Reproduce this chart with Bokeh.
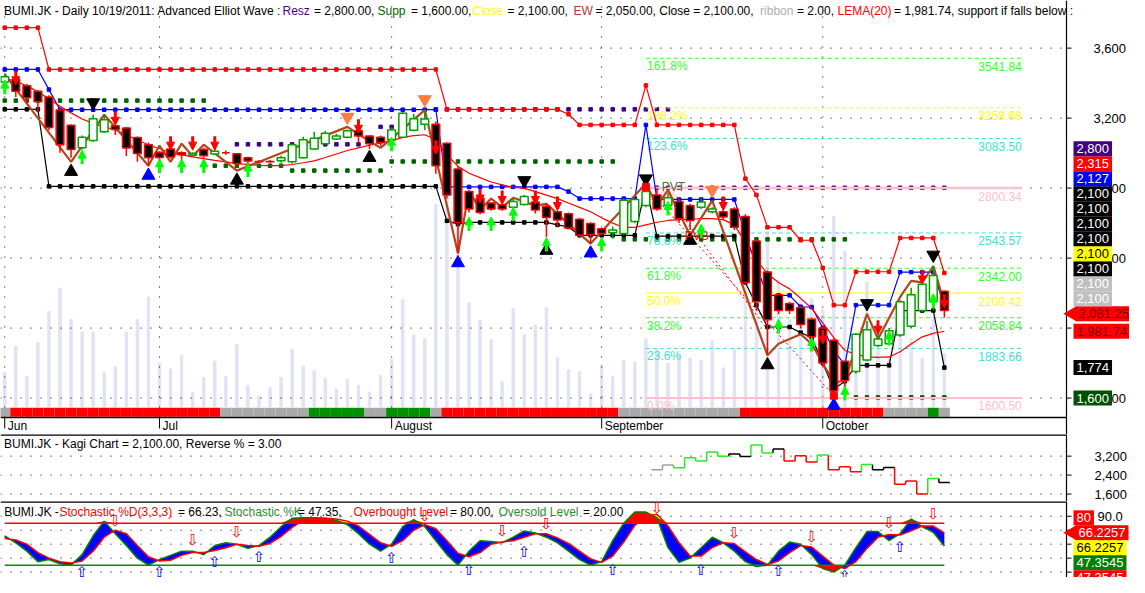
import numpy as np
from bokeh.plotting import figure
from bokeh.models import Range1d, ColumnDataSource, Arrow, NormalHead
from bokeh.layouts import column
from bokeh.embed import file_html
from bokeh.resources import INLINE
from bokeh.core.properties import value

# ---------------- DATA ----------------
OPEN = [3406,3422,3385,3354,3320,3246,3159,3030,3072,3122, 3156,3144,3089,3048,3005,3024,3002,2988,3021,2995,
        3002,2996,2974,2952,2952,2956,2950,2974,3024,3054, 3080,3091,3128,3098,3090,3076,3091,3131,3165,3165,
        3057,2909,2780,2743,2715,2705,2691,2706,2721,2696, 2665,2654,2622,2598,2567,2545,2540,2609,2700,2760,
        2700,2724,2700,2690,2665,2665,2680,2637,2498,2321, 2190,2140,2117,2050,2000,1930,1810,1752,1817,1900,
        1910,1960,2010,2100,2150,2210]
HIGH = [3456,3440,3395,3360,3330,3255,3165,3100,3220,3224, 3165,3150,3095,3060,3010,3030,3010,3005,3030,3030,
        3015,3000,2980,2960,2960,2985,3055,3094,3122,3128, 3110,3135,3140,3100,3100,3146,3235,3224,3246,3180,
        3060,2920,2790,2750,2720,2710,2745,2760,2730,2710, 2672,2660,2630,2605,2570,2580,2740,2740,2860,2800,
        2770,2740,2710,2740,2690,2680,2690,2650,2500,2330, 2200,2150,2125,2060,2010,1940,1815,1970,2040,1990,
        2000,2160,2230,2290,2354,2215]
LOW = [3395,3320,3289,3233,3130,3002,2974,3020,3065,3115, 3104,2983,2950,2928,2946,2970,2950,2985,2974,2990,
       2990,2928,2940,2945,2945,2945,2940,2970,3020,3050, 3075,3085,3057,3024,3040,3060,3085,3125,3130,2882,
       2740,2428,2660,2650,2670,2670,2685,2700,2655,2520, 2576,2565,2520,2485,2530,2510,2535,2600,2690,2670,
       2690,2600,2560,2680,2655,2620,2560,2250,2100,1850, 2080,2080,2000,1940,1780,1600,1640,1740,1810,1890,
       1900,1950,2000,2090,2100,2060]
CLOSE = [3437,3354,3317,3294,3146,3048,3021,3090,3196,3191, 3135,3029,2998,2974,2975,2978,2990,2998,2985,3010,
         3002,2940,2955,2950,2950,2974,3048,3076,3085,3113, 3098,3128,3098,3054,3060,3132,3228,3196,3195,2928,
         2761,2604,2680,2660,2680,2680,2724,2752,2675,2632, 2617,2572,2530,2535,2540,2560,2730,2735,2780,2680,
         2745,2625,2615,2720,2680,2635,2576,2260,2150,2048, 2100,2100,2020,1950,1800,1640,1700,1965,1990,1937,
         1985,2150,2190,2250,2300,2100]
VOLUME = [35,62,31,66,98,122,90,77,77,35, 41,77,90,113,45,39,53,15,30,47,
          31,64,22,11,20,30,59,42,37,29, 18,28,22,15,32,49,110,74,70,208,
          230,200,107,89,69,26,101,74,84,102, 51,38,36,13,43,31,48,46,70,60,
          45,55,50,48,68,40,60,171,120,180, 130,90,111,111,100,196,160,70,128,60,
          51,85,70,50,90,55]
LEMA20 = [3428,3410,3385,3350,3310,3268,3230,3195,3170,3150, 3133,3105,3075,3048,3025,3002,2990,2978,2968,2958,
          2950,2940,2935,2930,2928,2928,2935,2945,2956,2975, 2995,3015,3030,3045,3057,3070,3090,3100,3105,3076,
          2990,2925,2885,2860,2835,2818,2805,2798,2780,2760, 2740,2715,2690,2665,2630,2600,2575,2575,2590,2605,
          2615,2620,2622,2625,2625,2620,2590,2490,2390,2310, 2260,2224,2170,2113,2030,1946,1872,1850,1835,1833,
          1835,1865,1909,1950,1970,1981.74]
RESIST = [3717,3717,3717,3717,3478,3478,3478,3478,3478,3478, 3478,3478,3478,3478,3478,3478,3478,3478,3478,3478,
          3478,3478,3478,3478,3478,3478,3478,3478,3478,3478, 3478,3478,3478,3478,3478,3478,3478,3478,3478,3478,
          3250,3250,3250,3250,3250,3250,3250,3250,3250,3250, 3250,3222,3161,3161,3161,3161,3161,3161,3387,3161,
          3161,3161,3161,3161,3161,3161,3161,2854,2761,2576, 2576,2576,2502,2502,2344,2131,2131,2322,2322,2322,
          2322,2515,2515,2515,2515,2315]
BLUE_LVL = [3478,3478,3478,3478,3363,3248,3248,3248,3248,3248, 3248,3248,3248,3248,3248,3248,3248,3248,3248,3248,
            3248,3248,3248,3248,3248,3248,3248,3248,3248,3248, 3248,3248,3248,3248,3248,3248,3248,3248,3248,3248,
            2807,2807,2807,2807,2807,2807,2807,2807,2807,2807, 2807,2780,2740,2740,2740,2740,2740,2740,3161,2735,
            2735,2735,2735,2735,2735,2735,2735,2540,2350,2187, 2187,2187,2122,2120,2002,1872,1790,2131,2131,2131,
            2131,2320,2320,2320,2320,2127]
SUPPORT = [3250,3250,3250,3250,2810,2810,2810,2810,2810,2810, 2810,2810,2810,2810,2810,2810,2810,2810,2810,2810,
           2810,2810,2810,2810,2810,2810,2810,2810,2810,2810, 2810,2810,2810,2810,2810,2810,2810,2810,2810,2810,
           2613,2594,2604,2604,2604,2604,2604,2604,2604,2604, 2590,2578,2530,2530,2530,2530,2530,2530,2810,2526,
           2526,2526,2526,2526,2526,2526,2526,2261,2131,2006, 2006,2006,1974,1946,1800,1650,1696,1787,1787,1787,
           1787,2100,2100,2100,2100,1774]
ZZ_IDX = [0,6,9,13,14,15,16,17,18,21, 31,33,34,38,41,42,43,44,45,46, 48,49,53,58,59,60,62,64,69,70,
          71,72,73,75,76,78,79,81,82,83, 84,85]
ZZ_VAL = [3450,2950,3220,2928,3043,2950,3054,2983,3048,2900, 3150,3067,3030,3246,2428,2783,2678,2740,2690,2745,
          2700,2710,2483,2826,2700,2789,2530,2728,1844,1911, 1937,1965,1909,1689,1700,2081,1937,2178,2270,2261,
          2354,2141]
# ribbon state per bar: g = gray, r = red, G = green
RIBBON = ("g" + "rrrrrrrrrrrrrrrrrrr" + "gggggggg" + "GGGGG" + "gg" + "GGGG" + "g" +
          "rrrrrrrrrrrrrrrr" + "ggggggggggg" + "rrrrrrrrrrrrr" + "gggg" + "G" + "g")
DOT_GREEN = [(0, 18, 3300), (19, 25, 2928), (26, 34, 2900), (35, 55, 2952), (56, 76, 2507), (77, 85, 1604)]
DOT_PURPLE = [(21, 32, 3050), (34, 35, 3150), (39, 60, 3250), (58, 85, 2802)]
TRI_UP_BLACK = ([6, 21, 33, 49, 62, 69], [2894, 2844, 2974, 2443, 2500, 1789])
TRI_UP_BLUE = ([13, 41, 53, 75], [2872, 2372, 2428, 1557])
TRI_DN_BLACK = ([8, 47, 58, 78, 84], [3289, 2844, 2854, 2141, 2418])
TRI_DN_ORANGE = ([31, 38, 64], [3206, 3307, 2789])
ARW_UP_IDX = [0, 7, 14, 16, 18, 22, 35, 42, 44, 46, 49, 54, 60, 63, 70, 73, 76, 80, 84]
ARW_UP_TIP = [3417, 3017, 2967, 2967, 2967, 2944, 3091, 2635, 2635, 2691, 2517, 2517, 2724, 2594, 2050, 1946, 1667, 1983, 2196]
ARW_DN_IDX = [1, 10, 15, 17, 19, 32, 39, 43, 45, 48, 50, 65, 74, 79, 83, 85]
ARW_DN_TIP = [3391, 3159, 3017, 3017, 3017, 3113, 2993, 2715, 2706, 2706, 2672, 2672, 1909, 1965, 2252, 2113]
PIVOT_SQ = ([58, 75], [2807, 1613])
FIB_PCT = ["161.8%", "138.2%", "123.6%", "100%", "78.6%", "61.8%", "50.0%", "38.2%", "23.6%", "0.0%"]
FIB_VAL = [3541.84, 3258.68, 3083.50, 2800.34, 2543.57, 2342.00, 2200.42, 2058.84, 1883.66, 1600.50]
FIB_RANGE = (58, 92)
DIAG = [(58, 2807, 75, 1613), (60, 2750, 69, 1990)]
MONTH_POS = [0, 14, 35, 54, 74]
MONTH_LBL = ["Jun", "Jul", "August", "September", "October"]
PRICE_TICKS = [1600, 2000, 2400, 2800, 3200, 3600]
# right value boxes (value, text, bg, fg, arrow)
RIGHT_BOXES = [(1600, "1,600", "#005000", "white", False), (1774, "1,774", "black", "white", False),
               (1981.74, "1,981.74", "#ff0000", "#800000", False), (2081.25, "2,081.25", "#ff0000", "#800000", True),
               (2100, "2,100", "#c0c0c0", "white", False), (2100, "2,100", "#c0c0c0", "white", False),
               (2100, "2,100", "black", "white", False), (2100, "2,100", "#ffff00", "black", False),
               (2100, "2,100", "black", "white", False), (2100, "2,100", "black", "white", False),
               (2100, "2,100", "black", "white", False), (2100, "2,100", "black", "white", False),
               (2127, "2,127", "#0000ff", "white", False), (2315, "2,315", "#ff0000", "white", False),
               (2800, "2,800", "#400080", "white", False)]
# Kagi
KAGI_START = 59
KAGI_LEVEL = [2625, 2831, 2708, 3130, 2995, 3376, 3200, 3294, 3184, 3676, 3335, 3499, 2995, 3212,
              2954, 3253, 2625, 2749, 2544, 2843, 2625, 2720, 2010, 2146, 1600, 2256, 2092]
KAGI_COLOR = ["gray", "gray", "green", "green", "green", "green", "green", "black", "black", "green",
              "green", "black", "red", "red", "red", "green", "red", "red", "red", "green", "black",
              "black", "red", "red", "red", "green", "black"]
KAGI_TICKS = [1600, 2400, 3200]
# Stochastic
STO_K = [62,52,40,25,28,22,20,35,62,83, 65,48,30,20,28,34,40,40,35,48, 52,50,44,48,60,75,87,88,88,87,
         84,78,65,50,40,50,75,85,75,55, 35,20,40,55,54,52,60,69,66,60, 52,40,28,20,25,55,80,96,96,88,
         45,24,30,45,60,52,40,25,18,20, 40,53,50,35,15,10,20,45,68,68, 55,65,86,75,67,47.35]
STO_D = [58,56,50,38,30,25,23,26,40,60, 70,65,48,32,26,27,34,38,38,41, 45,50,48,47,51,61,74,84,87,87,
         86,83,76,64,52,47,55,70,78,72, 55,37,32,38,50,53,55,60,65,65, 59,51,40,29,24,33,53,77,90,93,
         76,52,33,33,45,52,51,39,28,21, 26,38,48,46,33,20,15,25,44,60, 64,63,69,76,76,66.23]
OB_LEVEL, OS_LEVEL = 80, 20
ST_UP_IDX = [7, 14, 19, 23, 35, 42, 47, 55, 63, 70, 76, 81]
ST_UP_VAL = [10.7, 10.7, 25, 32, 29.8, 13.4, 39, 13.4, 13.4, 11, 5, 46]
ST_DN_IDX = [10, 17, 21, 38, 45, 49, 59, 66, 73, 80, 84]
ST_DN_VAL = [83, 55.3, 67, 90, 69, 78.6, 101.8, 66, 60, 81, 92.5]
STO_TICKS = [10, 30, 50, 70, 90]
STO_BOXES = [(80, "80", "#ff0000", "white", False), (66.2257, "66.2257", "#ff0000", "white", True),
             (66.2257, "66.2257", "#ffff00", "black", False), (47.3545, "47.3545", "#008000", "white", False),
             (47.3545, "47.3545", "#ff0000", "white", False)]

# ---------------- LAYOUT ----------------
W = 1129
PLOT_W = 1066                     # width of the charting area (right axis line sits here)
H_MAIN, AX_B, H_KAGI, H_STO = 417, 17, 67, 76
XR0, XAX = -0.384, 96.05          # x data at left edge / at the axis line
UPX = (XAX - XR0) / PLOT_W
XR1 = XR0 + W * UPX
YR0, YR1 = 1488.9, 3872.2
UPP = (YR1 - YR0) / H_MAIN
YB = YR0 - AX_B * UPP             # bottom of the month-label band
VR0, VR1 = -11, 418
VPP = (VR1 - VR0) / H_MAIN
KR0, KR1 = 1284, 4115
UPP_K = (KR1 - KR0) / H_KAGI
SR0, SR1 = 2.3, 111.1
UPP_S = (SR1 - SR0) / H_STO
FONT = "Liberation Sans"
CW = {c: 7.23 for c in "0123456789"}
CW.update({",": 3.61, ".": 3.61})

IDX = np.arange(len(CLOSE))
O = np.array(OPEN, float); C = np.array(CLOSE, float)
Hh = np.array(HIGH, float); Ll = np.array(LOW, float)


def make_fig(height, y0, y1):
    f = figure(width=W, height=height, x_range=Range1d(XR0, XR1), y_range=Range1d(y0, y1),
               output_backend="svg", toolbar_location=None, x_axis_location=None, y_axis_location=None,
               min_border=0, background_fill_color="white", border_fill_color="white", outline_line_color=None)
    f.xgrid.grid_line_color = None
    f.ygrid.grid_line_color = None
    return f


def txt(f, x, y, t, color, size="12px", align="left", font=FONT):
    f.text(x=[x], y=[y], text=[t], text_color=color, text_font=value(font), text_font_size=size,
           text_baseline="middle", text_align=align)


def right_axis(f, ticks, labels, upp, ybot, ytop, standoff):
    f.segment(x0=[XR0] * len(ticks), y0=ticks, x1=[XAX] * len(ticks), y1=ticks,
              line_color="black", line_dash="1 9", line_width=1)
    f.segment(x0=[XAX], y0=[ybot], x1=[XAX], y1=[ytop], line_color="black", line_width=1.2)
    f.segment(x0=[XAX] * len(ticks), y0=ticks, x1=[XAX + 5 * UPX] * len(ticks), y1=ticks,
              line_color="black", line_width=1)
    f.text(x=[XAX + standoff * UPX] * len(ticks), y=ticks, text=labels, text_color="black",
           text_font=value(FONT), text_font_size="13px", text_baseline="middle", text_align="left")


def value_box(f, ypos, t, bg, fg, arrow, upp):
    tw = sum(CW.get(ch, 7.0) for ch in t)
    left = XAX + (9 if arrow else 7) * UPX
    right = left + (tw + 6) * UPX
    f.quad(left=[left], right=[min(right, XR1)], bottom=[ypos - 7.5 * upp], top=[ypos + 7.5 * upp],
           fill_color=bg, line_color=None)
    if arrow:
        f.scatter([left - 3.5 * UPX], [ypos], marker="triangle", angle=np.pi / 2, size=15,
                  fill_color=bg, line_color=None)
    txt(f, left + 3 * UPX, ypos, t, fg, size="13px")


# ---------------- MAIN PANEL ----------------
p = make_fig(H_MAIN + AX_B, YB, YR1)
p.extra_y_ranges = {"vol": Range1d(VR0 - AX_B * VPP, VR1)}
p.vbar(x=IDX, top=VOLUME, bottom=0, width=0.22, y_range_name="vol", color="#e2e2f6")
rib_col = {"g": "#a9a9a9", "r": "#ff0000", "G": "#009000"}
p.quad(left=IDX - 0.5, right=IDX + 0.5, bottom=-10.3, top=-1, y_range_name="vol",
       fill_color=[rib_col[c] for c in RIBBON], line_color=None)

# grid + axes
p.segment(x0=MONTH_POS, y0=[YR0] * len(MONTH_POS), x1=MONTH_POS, y1=[YR1] * len(MONTH_POS),
          line_color="black", line_dash="1 9", line_width=1)
right_axis(p, PRICE_TICKS, ["{:,}".format(t) for t in PRICE_TICKS], UPP, YB, YR1, 27)
p.segment(x0=[XR0], y0=[YR0], x1=[XAX], y1=[YR0], line_color="black", line_width=1.5)
p.segment(x0=MONTH_POS, y0=[YR0] * len(MONTH_POS), x1=MONTH_POS, y1=[YR0 - 11 * UPP] * len(MONTH_POS),
          line_color="black", line_width=1)
p.text(x=[m + 3 * UPX for m in MONTH_POS], y=[YR0 - 8.5 * UPP] * len(MONTH_POS), text=MONTH_LBL,
       text_color="black", text_font=value(FONT), text_font_size="12px", text_baseline="middle",
       text_align="left")

for s0, e0, lv in DOT_GREEN:
    xs = list(range(s0, e0 + 1))
    p.scatter(xs, [lv] * len(xs), marker="square", size=3.5, color="#006400")
for s0, e0, lv in DOT_PURPLE:
    xs = list(range(s0, e0 + 1))
    p.scatter(xs, [lv] * len(xs), marker="square", size=3.5, color="#400080")

# fib levels
fib_style = {"161.8%": ("#33ff33", "4 3", 1), "138.2%": ("#ffff00", "4 3", 1), "123.6%": ("#40e0d0", "4 3", 1),
             "100%": ("#ffc0cb", "solid", 2.5), "78.6%": ("#40e0d0", "4 3", 1), "61.8%": ("#33ff33", "4 3", 1),
             "50.0%": ("#ffff00", "solid", 1.2), "38.2%": ("#33ff33", "4 3", 1), "23.6%": ("#40e0d0", "4 3", 1),
             "0.0%": ("#ffc0cb", "solid", 2)}
fx0, fx1 = FIB_RANGE
for pct, lv in zip(FIB_PCT, FIB_VAL):
    col, dash, lw = fib_style[pct]
    p.segment(x0=[fx0], y0=[lv], x1=[fx1], y1=[lv], line_color=col, line_dash=dash, line_width=lw)
p.text(x=[fx0 + 0.1] * len(FIB_VAL), y=[v - 8 * UPP for v in FIB_VAL], text=FIB_PCT,
       text_color=[fib_style[t][0] for t in FIB_PCT], text_font=value(FONT), text_font_size="12px",
       text_baseline="middle", text_align="left")
p.text(x=[fx1] * len(FIB_VAL), y=[v - 8 * UPP for v in FIB_VAL], text=["%.2f" % v for v in FIB_VAL],
       text_color=[fib_style[t][0] for t in FIB_PCT], text_font=value(FONT), text_font_size="12px",
       text_baseline="middle", text_align="right")

for x0, y0, x1, y1 in DIAG:
    p.segment(x0=[x0], y0=[y0], x1=[x1], y1=[y1], line_color="#ff0000", line_dash="2 3", line_width=1)

for arr, col in ((RESIST, "#ff0000"), (BLUE_LVL, "#0000ff"), (SUPPORT, "black")):
    p.line(IDX, arr, line_color=col, line_width=1.2)
    p.scatter(IDX, arr, marker="square", size=3.5, color=col)

p.line(IDX, LEMA20, line_color="#ff0000", line_width=1.2)
p.line(ZZ_IDX, ZZ_VAL, line_color="#b5451b", line_width=2.2)

# candles
up = C > O
line_c = np.where(up, "#00a000", "#ff0000")
fill_c = np.where(up, "white", "black")
p.segment(x0=IDX, y0=Hh, x1=IDX, y1=Ll, line_color=list(line_c), line_width=1.5)
p.vbar(x=IDX, width=0.7, top=np.maximum(O, C), bottom=np.minimum(O, C),
       fill_color=list(fill_c), line_color=list(line_c), line_width=1.5)

p.scatter(*TRI_UP_BLACK, marker="triangle", size=13, color="black")
p.scatter(*TRI_UP_BLUE, marker="triangle", size=13, color="#0000ff")
p.scatter(*TRI_DN_BLACK, marker="inverted_triangle", size=13, color="black")
p.scatter(*TRI_DN_ORANGE, marker="inverted_triangle", size=13, color="#ff7f3f")
p.scatter(*PIVOT_SQ, marker="square", size=7, color="#ff0000")

up_src = ColumnDataSource(dict(x=ARW_UP_IDX, y0=[t - 14 * UPP for t in ARW_UP_TIP], y1=ARW_UP_TIP))
p.add_layout(Arrow(end=NormalHead(size=8, fill_color="#00ff00", line_color="#00ff00"),
                   source=up_src, x_start="x", y_start="y0", x_end="x", y_end="y1",
                   line_color="#00ff00", line_width=3))
dn_src = ColumnDataSource(dict(x=ARW_DN_IDX, y0=[t + 14 * UPP for t in ARW_DN_TIP], y1=ARW_DN_TIP))
p.add_layout(Arrow(end=NormalHead(size=8, fill_color="#ff0000", line_color="#ff0000"),
                   source=dn_src, x_start="x", y_start="y0", x_end="x", y_end="y1",
                   line_color="#ff0000", line_width=3))

p.text(x=[60.5, 62.6], y=[2806, 2524], text=["PVT", "PVB"], text_color=["#556b2f", "#ff0000"],
       text_font=value(FONT), text_font_size="12px", text_baseline="middle", text_align="center")

title_parts = [(3.6, "BUMI.JK - Daily 10/19/2011: Advanced Elliot Wave :", "black"),
               (282, "Resz", "#4b0082"), (313.5, "= 2,800.00,", "black"),
               (377, "Supp", "#006400"), (410.5, "= 1,600.00,", "black"),
               (472, "Close", "#ffff00"), (507, "= 2,100.00,", "black"),
               (573, "EW", "#b03a2e"), (595, "= 2,050.00, Close = 2,100.00,", "black"),
               (759.6, "ribbon", "#b0b0b0"), (796.5, "= 2.00,", "black"),
               (837, "LEMA(20)", "#ff0000"), (893.5, "= 1,981.74, support if falls below :", "black")]
for xo, t, col in title_parts:
    txt(p, XR0 + xo * UPX, YR1 - 10 * UPP, t, col)

# right value boxes (stacked upward from the lowest)
prev = None
for v, t, bg, fg, arr in sorted(RIGHT_BOXES, key=lambda r: r[0]):
    pos = v if prev is None or v - prev >= 15 * UPP else prev + 15 * UPP
    value_box(p, pos, t, bg, fg, arr, UPP)
    prev = pos

# ---------------- KAGI PANEL ----------------
k = make_fig(H_KAGI, KR0, KR1)
right_axis(k, KAGI_TICKS, ["{:,}".format(t) for t in KAGI_TICKS], UPP_K, KR0, KR1, 28)
k.segment(x0=[XR0], y0=[KR1], x1=[XAX], y1=[KR1], line_color="black", line_width=2.5)
kcol = {"gray": "#a0a0a0", "green": "#22ee22", "black": "black", "red": "#ff0000"}
hx0, hx1, hy, hc, vx, vy0, vy1, vc = [], [], [], [], [], [], [], []
for j, (lv, cname) in enumerate(zip(KAGI_LEVEL, KAGI_COLOR)):
    b = KAGI_START + j
    hx0.append(b - 0.5); hx1.append(b + 0.5); hy.append(lv); hc.append(kcol[cname])
    if j > 0:
        vx.append(b - 0.5); vy0.append(KAGI_LEVEL[j - 1]); vy1.append(lv); vc.append(kcol[cname])
k.segment(x0=vx, y0=vy0, x1=vx, y1=vy1, line_color=vc, line_width=1.5)
k.segment(x0=hx0, y0=hy, x1=hx1, y1=hy, line_color=hc, line_width=1.5)
txt(k, XR0 + 3.5 * UPX, KR1 - 9 * UPP_K, "BUMI.JK - Kagi Chart = 2,100.00, Reverse % = 3.00", "black")

# ---------------- STOCHASTIC PANEL ----------------
s = make_fig(H_STO, SR0, SR1)
right_axis(s, STO_TICKS, ["%.1f" % t for t in STO_TICKS], UPP_S, SR0, SR1, 31)
s.segment(x0=[XR0], y0=[SR1], x1=[XAX], y1=[SR1], line_color="black", line_width=2.5)
K = np.array(STO_K, float); D = np.array(STO_D, float)
s.varea(x=IDX, y1=K, y2=D, fill_color="#0000ff")
s.varea(x=IDX, y1=np.full(len(K), OB_LEVEL), y2=np.maximum(K, OB_LEVEL), fill_color="#ff0000")
s.varea(x=IDX, y1=np.maximum(K, OB_LEVEL), y2=np.maximum(np.maximum(D, K), OB_LEVEL), fill_color="#ffff00")
s.varea(x=IDX, y1=np.minimum(K, OS_LEVEL), y2=np.full(len(K), OS_LEVEL), fill_color="#ff0000")
s.segment(x0=[0], y0=[OB_LEVEL], x1=[IDX[-1]], y1=[OB_LEVEL], line_color="#ff0000", line_width=1.5)
s.segment(x0=[0], y0=[OS_LEVEL], x1=[IDX[-1]], y1=[OS_LEVEL], line_color="#009000", line_width=1.5)
s.line(IDX, K, line_color="#008000", line_width=1.5)
s.line(IDX, D, line_color="#ff0000", line_width=1.5)
s.text(x=ST_UP_IDX, y=ST_UP_VAL, text=["\u21e7"] * len(ST_UP_IDX), text_color="#0000ff",
       text_font=value("DejaVu Sans"), text_font_size="15px", text_baseline="middle", text_align="center")
s.text(x=ST_DN_IDX, y=ST_DN_VAL, text=["\u21e9"] * len(ST_DN_IDX), text_color="#ff0000",
       text_font=value("DejaVu Sans"), text_font_size="15px", text_baseline="middle", text_align="center")
sto_title = [(3.7, "BUMI.JK -", "black"), (59, "Stochastic %D(3,3,3)", "#ff0000"),
             (177.5, "= 66.23,", "black"), (224, "Stochastic %K", "#2e8b2e"),
             (297.5, "= 47.35,", "black"), (353, "Overbought Level", "#ff0000"),
             (449.5, "= 80.00,", "black"), (498, "Oversold Level", "#2e8b2e"),
             (582.5, "= 20.00", "black")]
for xo, t, col in sto_title:
    txt(s, XR0 + xo * UPX, SR1 - 10 * UPP_S, t, col)
anchor_i = 1
for j, (v, t, bg, fg, arr) in enumerate(STO_BOXES):
    pos = STO_BOXES[anchor_i][0] - (j - anchor_i) * 15 * UPP_S
    value_box(s, pos, t, bg, fg, arr, UPP_S)

layout = column(p, k, s, spacing=0)
open("out.html", "w").write(file_html(layout, INLINE))
